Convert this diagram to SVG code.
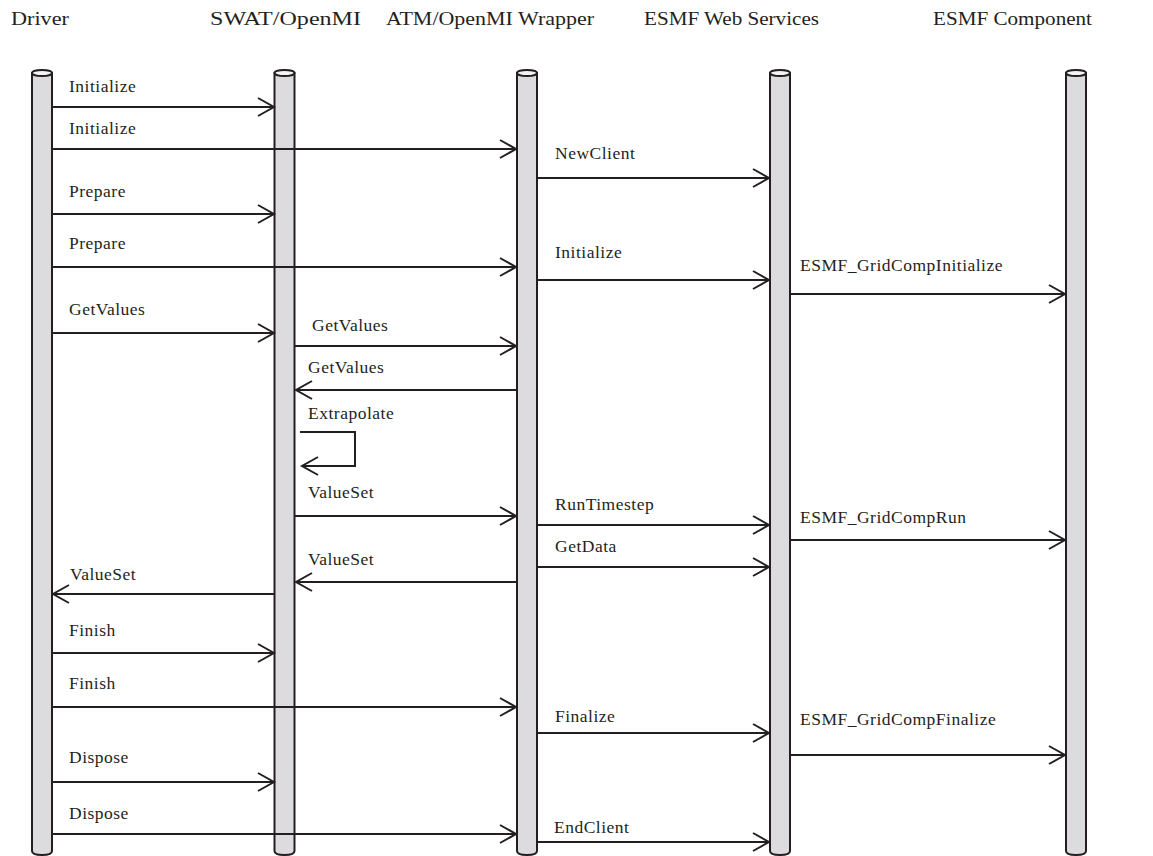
<svg xmlns="http://www.w3.org/2000/svg" width="1153" height="856" viewBox="0 0 1153 856">
<style>
.t{font-family:"Liberation Serif","Times New Roman",serif;font-size:17.5px;letter-spacing:0.5px;fill:#231f20}
.h{font-family:"Liberation Serif","Times New Roman",serif;font-size:19px;fill:#231f20}
.ll{fill:#dcdcde;stroke:#231f20;stroke-width:2}
.cap{fill:#f4f4f4;stroke:#231f20;stroke-width:2}
.m{fill:none;stroke:#231f20;stroke-width:2}
</style>
<defs>
<marker id="ah" viewBox="0 0 20 20" refX="17" refY="10" markerWidth="20" markerHeight="20" markerUnits="userSpaceOnUse" orient="auto">
<path d="M1,1 L17,10 L1,19" fill="none" stroke="#231f20" stroke-width="2"/>
</marker>
</defs>
<g id="driver">
<text class="h" x="11" y="25" textLength="58" lengthAdjust="spacingAndGlyphs">Driver</text>
<path class="ll" d="M32,73 L32,851 Q32,855 42,855 Q52,855 52,851 L52,73 Z"/>
<ellipse class="cap" cx="42" cy="73" rx="10" ry="3"/>
</g>
<g id="swat">
<text class="h" x="210" y="25" textLength="151" lengthAdjust="spacingAndGlyphs">SWAT/OpenMI</text>
<path class="ll" d="M274.5,73 L274.5,851 Q274.5,855 284.5,855 Q294.5,855 294.5,851 L294.5,73 Z"/>
<ellipse class="cap" cx="284.5" cy="73" rx="10" ry="3"/>
</g>
<g id="atm">
<text class="h" x="386" y="25" textLength="208" lengthAdjust="spacingAndGlyphs">ATM/OpenMI Wrapper</text>
<path class="ll" d="M517,73 L517,851 Q517,855 527,855 Q537,855 537,851 L537,73 Z"/>
<ellipse class="cap" cx="527" cy="73" rx="10" ry="3"/>
</g>
<g id="esmfws">
<text class="h" x="644" y="25" textLength="175" lengthAdjust="spacingAndGlyphs">ESMF Web Services</text>
<path class="ll" d="M770,73 L770,851 Q770,855 780,855 Q790,855 790,851 L790,73 Z"/>
<ellipse class="cap" cx="780" cy="73" rx="10" ry="3"/>
</g>
<g id="esmfcomp">
<text class="h" x="933" y="25" textLength="159" lengthAdjust="spacingAndGlyphs">ESMF Component</text>
<path class="ll" d="M1066,73 L1066,851 Q1066,855 1076,855 Q1086,855 1086,851 L1086,73 Z"/>
<ellipse class="cap" cx="1076" cy="73" rx="10" ry="3"/>
</g>
<g id="connectors">
<line class="m" x1="52" y1="107" x2="274" y2="107" marker-end="url(#ah)"/>
<line class="m" x1="52" y1="149" x2="516" y2="149" marker-end="url(#ah)"/>
<line class="m" x1="537" y1="178" x2="769" y2="178" marker-end="url(#ah)"/>
<line class="m" x1="52" y1="214" x2="274" y2="214" marker-end="url(#ah)"/>
<line class="m" x1="52" y1="267" x2="516" y2="267" marker-end="url(#ah)"/>
<line class="m" x1="537" y1="280" x2="769" y2="280" marker-end="url(#ah)"/>
<line class="m" x1="790" y1="294" x2="1065" y2="294" marker-end="url(#ah)"/>
<line class="m" x1="52" y1="333" x2="274" y2="333" marker-end="url(#ah)"/>
<line class="m" x1="295" y1="346" x2="516" y2="346" marker-end="url(#ah)"/>
<line class="m" x1="517" y1="390" x2="296" y2="390" marker-end="url(#ah)"/>
<polyline class="m" points="300,432 355,432 355,466 302,466" marker-end="url(#ah)"/>
<line class="m" x1="295" y1="516" x2="516" y2="516" marker-end="url(#ah)"/>
<line class="m" x1="537" y1="525" x2="769" y2="525" marker-end="url(#ah)"/>
<line class="m" x1="790" y1="540" x2="1065" y2="540" marker-end="url(#ah)"/>
<line class="m" x1="537" y1="567" x2="769" y2="567" marker-end="url(#ah)"/>
<line class="m" x1="517" y1="582" x2="296" y2="582" marker-end="url(#ah)"/>
<line class="m" x1="274" y1="594" x2="53" y2="594" marker-end="url(#ah)"/>
<line class="m" x1="52" y1="653" x2="274" y2="653" marker-end="url(#ah)"/>
<line class="m" x1="52" y1="707" x2="516" y2="707" marker-end="url(#ah)"/>
<line class="m" x1="537" y1="733" x2="769" y2="733" marker-end="url(#ah)"/>
<line class="m" x1="790" y1="755" x2="1065" y2="755" marker-end="url(#ah)"/>
<line class="m" x1="52" y1="782" x2="274" y2="782" marker-end="url(#ah)"/>
<line class="m" x1="52" y1="834" x2="516" y2="834" marker-end="url(#ah)"/>
<line class="m" x1="537" y1="842" x2="769" y2="842" marker-end="url(#ah)"/>
</g>
<g id="labels">
<text class="t" x="69" y="92">Initialize</text>
<text class="t" x="69" y="134">Initialize</text>
<text class="t" x="555" y="159">NewClient</text>
<text class="t" x="69" y="197">Prepare</text>
<text class="t" x="69" y="249">Prepare</text>
<text class="t" x="555" y="258">Initialize</text>
<text class="t" x="800" y="271">ESMF_GridCompInitialize</text>
<text class="t" x="69" y="315">GetValues</text>
<text class="t" x="312" y="331">GetValues</text>
<text class="t" x="308" y="373">GetValues</text>
<text class="t" x="308" y="419">Extrapolate</text>
<text class="t" x="308" y="498">ValueSet</text>
<text class="t" x="555" y="510">RunTimestep</text>
<text class="t" x="800" y="523">ESMF_GridCompRun</text>
<text class="t" x="555" y="552">GetData</text>
<text class="t" x="308" y="565">ValueSet</text>
<text class="t" x="70" y="580">ValueSet</text>
<text class="t" x="69" y="636">Finish</text>
<text class="t" x="69" y="689">Finish</text>
<text class="t" x="555" y="722">Finalize</text>
<text class="t" x="800" y="725">ESMF_GridCompFinalize</text>
<text class="t" x="69" y="763">Dispose</text>
<text class="t" x="69" y="819">Dispose</text>
<text class="t" x="554" y="833">EndClient</text>
</g>
</svg>
